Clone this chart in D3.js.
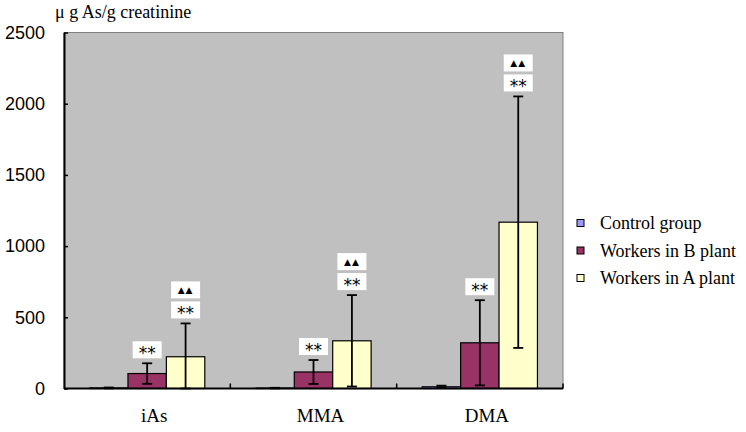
<!DOCTYPE html>
<html><head><meta charset="utf-8">
<script src="https://cdn.jsdelivr.net/npm/d3@7"></script>
<style>html,body{margin:0;padding:0;background:#fff;}svg{display:block;}</style>
</head><body>
<script>
const categories = ["iAs", "MMA", "DMA"];
const seriesNames = ["Control group", "Workers in B plant", "Workers in A plant"];
const controlMean = [4, 3, 12];
const controlSD = [3, 2, 8];
const bPlantMean = [105, 116, 321];
const bPlantSD = [72, 84, 299];
const aPlantMean = [223, 335, 1168];
const aPlantSD = [234, 321, 883];
const bPlantMarks = [["**"], ["**"], ["**"]];
const aPlantMarks = [["**", "▲▲"], ["**", "▲▲"], ["**", "▲▲"]];
const yTicks = [0, 500, 1000, 1500, 2000, 2500];
const yTitle = "μ g As/g creatinine";
const colors = ["#9999ff", "#993366", "#ffffcc"];

const W = 746, H = 432;
const m = {left: 64, right: 183, top: 32.5, bottom: 43.5};
const svg = d3.select("body").append("svg").attr("width", W).attr("height", H);

const x0 = d3.scaleBand().domain(categories).range([m.left, W - m.right]).paddingInner(0).paddingOuter(0);
const x1 = d3.scaleBand().domain(seriesNames).range([0, x0.bandwidth()]).paddingInner(0).paddingOuter(0.665);
const y = d3.scaleLinear().domain([0, 2500]).range([H - m.bottom, m.top]);

const series = [
  {name: seriesNames[0], mean: controlMean, sd: controlSD, marks: null},
  {name: seriesNames[1], mean: bPlantMean, sd: bPlantSD, marks: bPlantMarks},
  {name: seriesNames[2], mean: aPlantMean, sd: aPlantSD, marks: aPlantMarks}
];

// plot background
svg.append("rect").attr("x", m.left).attr("y", m.top)
  .attr("width", W - m.right - m.left).attr("height", H - m.bottom - m.top)
  .attr("fill", "#c0c0c0").attr("stroke", "#808080").attr("stroke-width", 1);

// bars
series.forEach((s, si) => {
  const g = svg.append("g");
  categories.forEach((c, ci) => {
    const bx = x0(c) + x1(s.name);
    const v = s.mean[ci];
    g.append("rect").attr("x", bx).attr("y", y(v))
      .attr("width", x1.bandwidth()).attr("height", y(0) - y(v))
      .attr("fill", colors[si]).attr("stroke", "#000").attr("stroke-width", 1.2);
  });
});

// error bars
series.forEach((s, si) => {
  categories.forEach((c, ci) => {
    const cx = x0(c) + x1(s.name) + x1.bandwidth() / 2;
    const hi = s.mean[ci] + s.sd[ci];
    const lo = Math.max(0, s.mean[ci] - s.sd[ci]);
    const g = svg.append("g").attr("stroke", "#000").attr("stroke-width", 1.8);
    g.append("line").attr("x1", cx).attr("x2", cx).attr("y1", y(hi)).attr("y2", y(lo));
    g.append("line").attr("x1", cx - 5).attr("x2", cx + 5).attr("y1", y(hi)).attr("y2", y(hi));
    g.append("line").attr("x1", cx - 5).attr("x2", cx + 5).attr("y1", y(lo)).attr("y2", y(lo));
  });
});

// significance marks
series.forEach((s) => {
  if (!s.marks) return;
  categories.forEach((c, ci) => {
    const cx = x0(c) + x1(s.name) + x1.bandwidth() / 2;
    const hi = s.mean[ci] + s.sd[ci];
    s.marks[ci].forEach((t, k) => {
      const bh = 17, bw = 29;
      const by = y(hi) - 5 - bh - k * (bh + 3);
      svg.append("rect").attr("x", cx - bw / 2).attr("y", by).attr("width", bw).attr("height", bh).attr("fill", "#fff");
      if (t === "**") {
        svg.append("text").attr("x", cx).attr("y", by + 18)
          .attr("text-anchor", "middle").attr("font-family", "DejaVu Sans")
          .attr("font-size", 17).attr("fill", "#000").text(t);
      } else {
        svg.append("text").attr("x", cx).attr("y", by + 12)
          .attr("text-anchor", "middle").attr("font-family", "DejaVu Sans")
          .attr("font-size", 9).attr("letter-spacing", 1).attr("fill", "#000").text(t);
      }
    });
  });
});

// y axis
const yAxis = d3.axisLeft(y).tickValues(yTicks).tickSizeInner(-4).tickSizeOuter(0).tickPadding(19).tickFormat(d3.format("d"));
const ya = svg.append("g").attr("transform", `translate(${m.left},0)`).call(yAxis);
ya.select(".domain").attr("stroke", "#000").attr("stroke-width", 2);
ya.selectAll(".tick line").attr("stroke", "#000").attr("stroke-width", 1.5);
ya.selectAll(".tick text").attr("font-family", "Liberation Sans, Arial").attr("font-size", 18).attr("fill", "#000");

// x axis
const xa = svg.append("g").attr("transform", `translate(0,${y(0)})`);
xa.append("line").attr("x1", m.left).attr("x2", W - m.right).attr("y1", 0).attr("y2", 0)
  .attr("stroke", "#000").attr("stroke-width", 2);
categories.forEach(c => {
  const xr = x0(c) + x0.bandwidth();
  xa.append("line").attr("x1", xr).attr("x2", xr).attr("y1", 0).attr("y2", -5).attr("stroke", "#000").attr("stroke-width", 1.5);
  xa.append("text").attr("x", x0(c) + x0.bandwidth() / 2 + 7).attr("y", 33)
    .attr("text-anchor", "middle").attr("font-family", "Liberation Serif, Times New Roman")
    .attr("font-size", 19).attr("fill", "#000").text(c);
});

// y title
svg.append("text").attr("x", 55).attr("y", 18).attr("font-family", "Liberation Serif, Times New Roman")
  .attr("font-size", 18).attr("fill", "#000").text(yTitle);

// legend
const lg = svg.append("g");
seriesNames.forEach((n, i) => {
  const ly = 223 + i * 27.5;
  lg.append("rect").attr("x", 577).attr("y", ly - 3.5).attr("width", 7).attr("height", 7)
    .attr("fill", colors[i]).attr("stroke", "#000").attr("stroke-width", 1);
  lg.append("text").attr("x", 600).attr("y", ly + 6).attr("font-family", "Liberation Serif, Times New Roman")
    .attr("font-size", 18).attr("fill", "#000").text(n);
});
</script>
</body></html>
